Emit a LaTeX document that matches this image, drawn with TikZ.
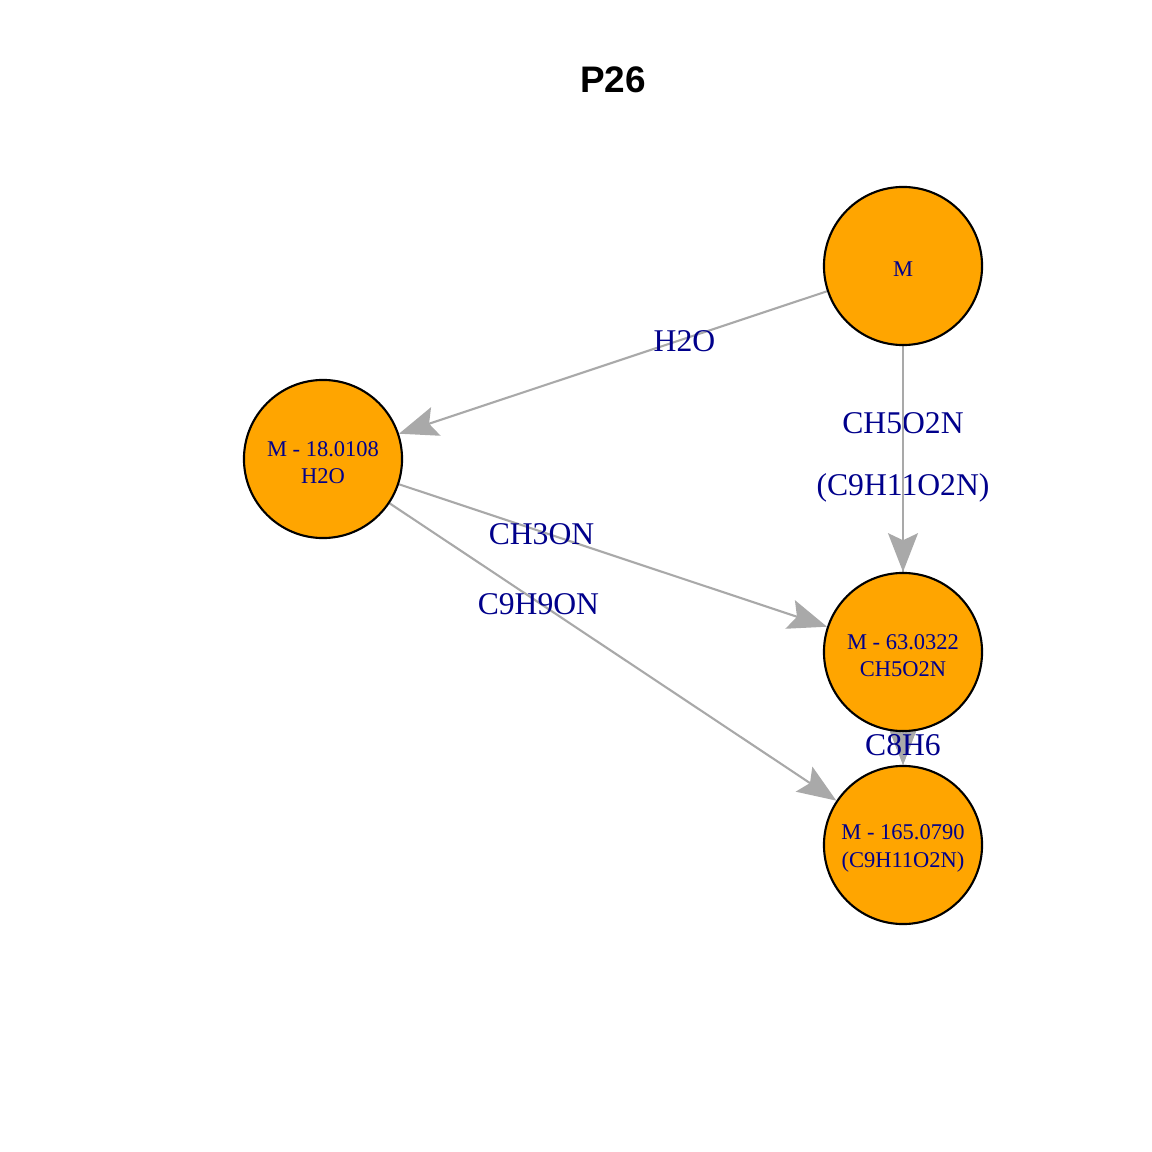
\documentclass[tikz,border=0pt]{standalone}
\usepackage{fontspec}
\setmainfont{Liberation Serif}
\newfontfamily\titlefont{Liberation Sans}
\usetikzlibrary{arrows.meta,backgrounds}
\definecolor{vfill}{RGB}{255,165,0}
\definecolor{ltext}{RGB}{0,0,139}
\definecolor{ecol}{RGB}{169,169,169}
\tikzset{
  vertex/.style={circle, draw=black, line width=0.6pt, fill=vfill,
    minimum size=1.58cm, inner sep=0pt, align=center, text=ltext,
    text height=6.2pt, font=\fontsize{6.4}{7.7}\selectfont},
  twoline/.style={text height=13.9pt},
  link/.style={draw=ecol, line width=0.6pt,
    -{Stealth[length=11pt, width=8.5pt, inset=2pt]}},
  elabel/.style={text=ltext, font=\fontsize{9}{10}\selectfont, inner sep=0pt,
    yshift=-0.6pt}
}
\begin{document}
\begin{tikzpicture}[x=0.01cm, y=-0.01cm]
  \useasboundingbox (0,0) rectangle (1152,1152);
  \node[font=\titlefont\bfseries\fontsize{10.5}{12}\selectfont] (title) at (613,80) {P26};
  \node[vertex] (m) at (903,266) {M};
  \node[vertex, twoline] (h2o) at (323,459) {M - 18.0108\\H2O};
  \node[vertex, twoline] (ch5) at (903,652) {M - 63.0322\\CH5O2N};
  \node[vertex, twoline] (c9) at (903,845) {M - 165.0790\\(C9H11O2N)};
  \begin{scope}[on background layer]
    \draw[link] (m) -- node[elabel, pos=0.333] {H2O} (h2o);
    \draw[link] (m) -- node[elabel, pos=0.333] {CH5O2N} (ch5);
    \draw[link] (m) -- node[elabel, pos=0.333] {(C9H11O2N)} (c9);
    \draw[link] (h2o) -- node[elabel, pos=0.333] {CH3ON} (ch5);
    \draw[link] (h2o) -- node[elabel, pos=0.333] {C9H9ON} (c9);
    \draw[link] (ch5) -- node[elabel, pos=0.333] {C8H6} (c9);
  \end{scope}
\end{tikzpicture}
\end{document}
